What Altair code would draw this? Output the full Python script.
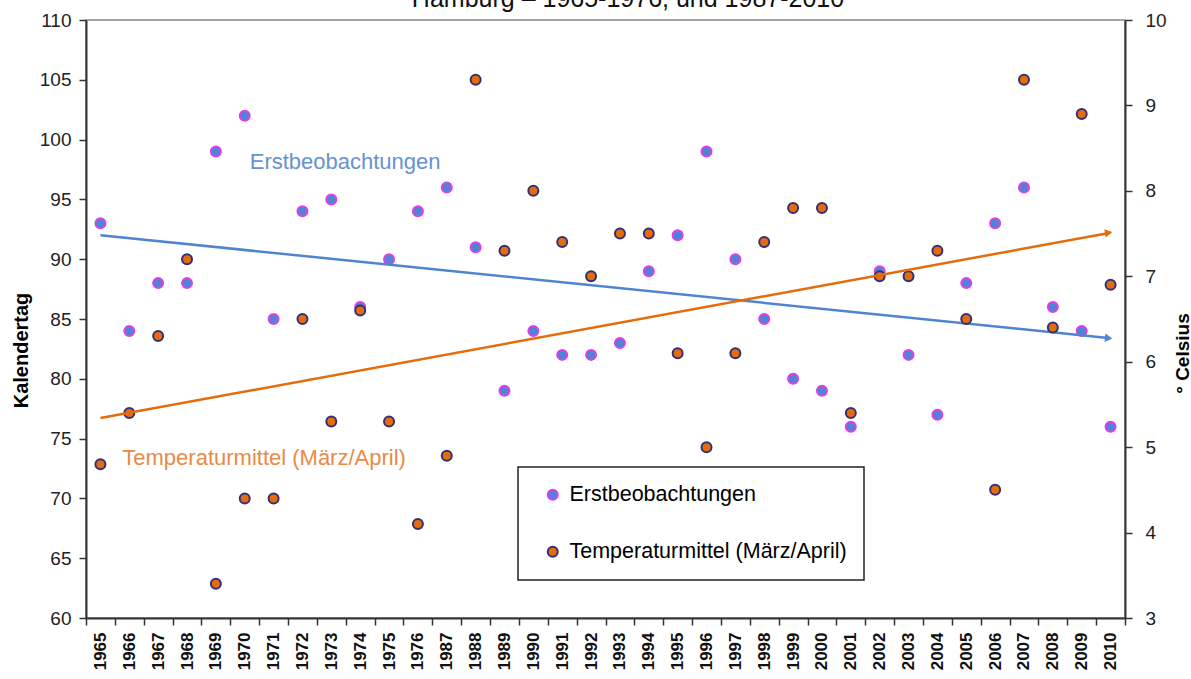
import altair as alt
import pandas as pd

FONT = "Liberation Sans"

years = ["1965", "1966", "1967", "1968", "1969", "1970", "1971", "1972", "1973", "1974", "1975", "1976",
         "1987", "1988", "1989", "1990", "1991", "1992", "1993", "1994", "1995", "1996", "1997", "1998",
         "1999", "2000", "2001", "2002", "2003", "2004", "2005", "2006", "2007", "2008", "2009", "2010"]
erst = [93, 84, 88, 88, 99, 102, 85, 94, 95, 86, 90, 94,
        96, 91, 79, 84, 82, 82, 83, 89, 92, 99, 90, 85,
        80, 79, 76, 89, 82, 77, 88, 93, 96, 86, 84, 76]
temp = [4.8, 5.4, 6.3, 7.2, 3.4, 4.4, 4.4, 6.5, 5.3, 6.6, 5.3, 4.1,
        4.9, 9.3, 7.3, 8.0, 7.4, 7.0, 7.5, 7.5, 6.1, 5.0, 6.1, 7.4,
        7.8, 7.8, 5.4, 7.0, 7.0, 7.3, 6.5, 4.5, 9.3, 6.4, 8.9, 6.9]

series_names = ["Erstbeobachtungen", "Temperaturmittel (März/April)"]
trend_years = ["1965", "2010"]
erst_trend = [92.0, 83.4]
temp_trend = [5.34, 7.51]

title_text = "Hamburg  –  1965-1976, und 1987-2010"
erst_label = {"year": "1970", "value": 98.1, "text": "Erstbeobachtungen"}
temp_label = {"year": "1966", "value": 4.87, "text": "Temperaturmittel (März/April)"}

BLUE = "#4F85CF"
ORANGE = "#E46C0A"
BLUE_TXT = "#6593CD"
ORANGE_TXT = "#E98A45"

df_erst = pd.DataFrame({"year": years, "value": erst, "series": series_names[0]})
df_temp = pd.DataFrame({"year": years, "value": temp, "series": series_names[1]})
df_et = pd.DataFrame({"year": trend_years, "value": erst_trend})
df_tt = pd.DataFrame({"year": trend_years, "value": temp_trend})

xscale = alt.Scale(type="band", domain=years, paddingInner=0, paddingOuter=0)
x_axis = alt.Axis(title=None, labelAngle=270, labelFont=FONT, labelFontSize=17, labelFontWeight="bold",
                  labelColor="#111", labelPadding=7, tickBand="extent", tickSize=7, tickColor="#333",
                  tickWidth=1.5, domainColor="#333", domainWidth=2, grid=False)
X = alt.X("year:N", sort=years, scale=xscale, axis=x_axis)

yl_scale = alt.Scale(domain=[60, 110], nice=False, zero=False)
yr_scale = alt.Scale(domain=[3, 10], nice=False, zero=False)
yl_axis = alt.Axis(values=list(range(60, 111, 5)), title="Kalendertag", titleFont=FONT, titleFontSize=20,
                   titleFontWeight="bold", titleAngle=270, titleX=-65, titleY=330, titleAlign="center",
                   titleBaseline="middle", titleColor="#000", labelFont=FONT, labelFontSize=19,
                   labelColor="#222", labelPadding=8, tickSize=7, tickColor="#333", tickWidth=1.5,
                   domainColor="#333", domainWidth=2, grid=False)
yr_axis = alt.Axis(orient="right", values=list(range(3, 11)), title="° Celsius", titleFont=FONT,
                   titleFontSize=19, titleFontWeight="bold", titleAngle=270, titleX=57, titleY=333,
                   titleAlign="center", titleBaseline="middle", titleColor="#000", labelFont=FONT,
                   labelFontSize=19, labelColor="#222", labelPadding=13, tickSize=7, tickColor="#333",
                   tickWidth=1.5, domainColor="#333", domainWidth=2, grid=False)
YL = alt.Y("value:Q", scale=yl_scale, axis=yl_axis)
YR = alt.Y("value:Q", scale=yr_scale, axis=yr_axis)

fill_scale = alt.Scale(domain=series_names, range=[BLUE, ORANGE])
stroke_scale = alt.Scale(domain=series_names, range=["#E03CF0", "#33307A"])

erst_pts = alt.Chart(df_erst).mark_circle(size=100, strokeWidth=2, opacity=1).encode(
    x=X, y=YL,
    fill=alt.Fill("series:N", scale=fill_scale, legend=alt.Legend(title=None)),
    stroke=alt.Stroke("series:N", scale=stroke_scale, legend=alt.Legend(title=None)),
)
erst_line = alt.Chart(df_et).mark_line(color=BLUE, strokeWidth=2.5).encode(x=X, y=YL)
erst_arrow = alt.Chart(df_et.tail(1)).mark_point(shape="triangle-right", filled=True, size=70, angle=6,
                                                  color=BLUE, opacity=1, xOffset=-2).encode(x=X, y=YL)
erst_txt = alt.Chart(pd.DataFrame([erst_label])).mark_text(
    align="left", baseline="middle", dx=5, font=FONT, fontSize=22, color=BLUE_TXT).encode(
    x=X, y=YL, text="text:N")
title_mark = alt.Chart(pd.DataFrame({"t": [title_text]})).mark_text(
    align="center", baseline="alphabetic", font=FONT, fontSize=25, color="#111").encode(
    x=alt.value(542), y=alt.value(-13), text="t:N")

temp_pts = alt.Chart(df_temp).mark_circle(size=100, strokeWidth=2, opacity=1).encode(
    x=X, y=YR,
    fill=alt.Fill("series:N", scale=fill_scale, legend=alt.Legend(title=None)),
    stroke=alt.Stroke("series:N", scale=stroke_scale, legend=alt.Legend(title=None)),
)
temp_line = alt.Chart(df_tt).mark_line(color=ORANGE, strokeWidth=2.5).encode(x=X, y=YR)
temp_arrow = alt.Chart(df_tt.tail(1)).mark_point(shape="triangle-right", filled=True, size=70, angle=350,
                                                  color=ORANGE, opacity=1, xOffset=-2).encode(x=X, y=YR)
temp_txt = alt.Chart(pd.DataFrame([temp_label])).mark_text(
    align="left", baseline="middle", dx=-7, font=FONT, fontSize=22, color=ORANGE_TXT).encode(
    x=X, y=YR, text="text:N")

left = alt.layer(erst_pts, erst_line, erst_arrow, erst_txt, title_mark)
right = alt.layer(temp_pts, temp_line, temp_arrow, temp_txt)

chart = alt.layer(left, right).resolve_scale(y="independent").properties(
    width=1039, height=598,
    padding={"left": 86, "top": 20, "right": 66, "bottom": 61},
    autosize=alt.AutoSizeParams(type="none"),
    background="white",
).configure_view(stroke="#888", strokeWidth=1.5).configure_legend(
    orient="none", legendX=432, legendY=447, strokeColor="#222", strokeWidth=1.5, padding=17,
    labelFont=FONT, labelFontSize=21.5, labelColor="#000", labelLimit=500, symbolType="circle",
    symbolSize=100, symbolStrokeWidth=2, symbolOffset=7, labelOffset=6, rowPadding=34,
    fillColor="white",
)

chart.save("out.html", embed_options={"renderer": "svg", "actions": False})
